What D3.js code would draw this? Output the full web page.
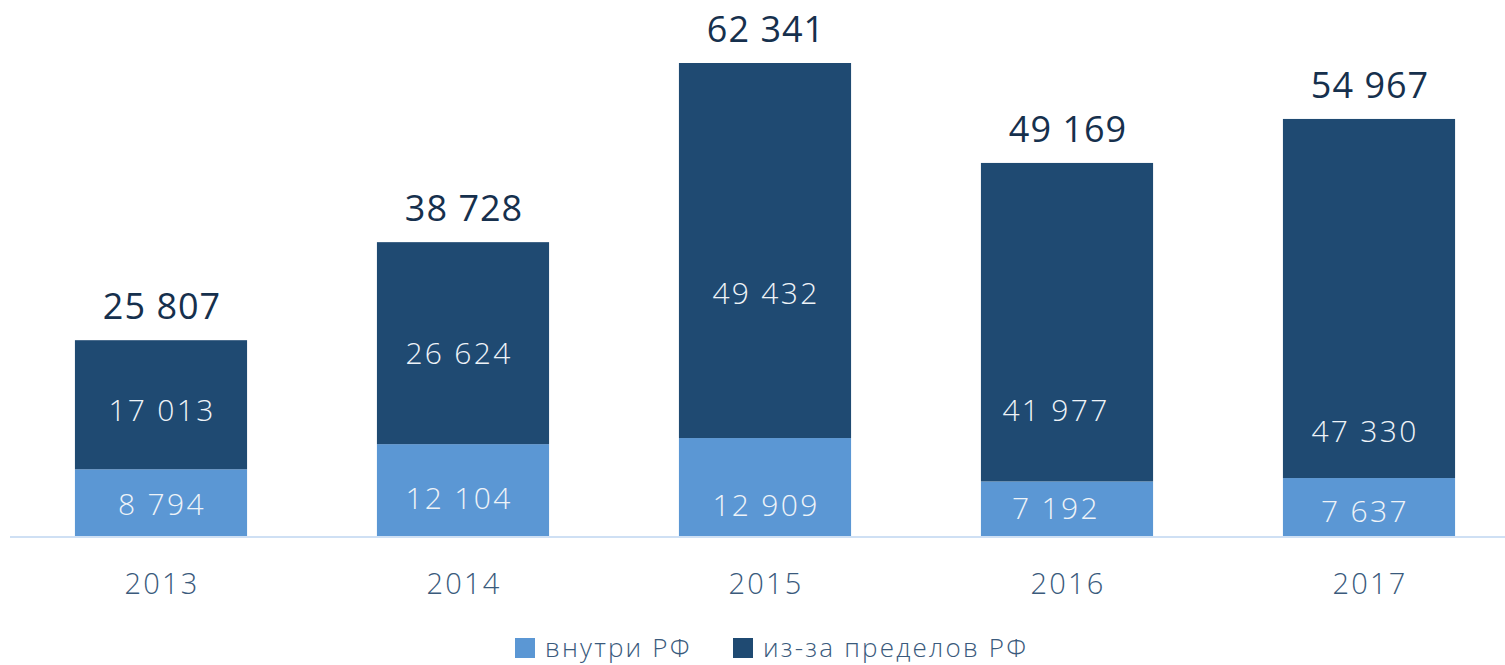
<!DOCTYPE html>
<html>
<head>
<meta charset="utf-8">
<style>
    body { margin: 0; background: #fff; }
    text { font-family: "Open Sans", "Noto Sans", sans-serif; }
</style>
</head>
<body>
<div id="vis"></div>
<script src="https://d3js.org/d3.v7.min.js"></script>
<script>
    // data
    let years = ["2013", "2014", "2015", "2016", "2017"];
    let inside = [8794, 12104, 12909, 7192, 7637];       // внутри РФ
    let outside = [17013, 26624, 49432, 41977, 47330];   // из-за пределов РФ
    let totals = [25807, 38728, 62341, 49169, 54967];
    let seriesNames = ["внутри РФ", "из-за пределов РФ"];

    let colors = ["#5b97d4", "#1f4a72"];

    // label nudges (px) to match the hand-placed labels of the original
    let outNudge = [5, 10, 43, 88, 133];
    let inNudge = [2, 8, 18, -1, 4];
    let xNudge = [0, -5, 0, -12, -5];

    let width = 1505, height = 665;
    let baseY = 536;

    let svg = d3.select("#vis")
        .append("svg")
        .attr("width", width)
        .attr("height", height);

    let x = d3.scaleBand()
        .domain(years)
        .range([10, 1520])
        .paddingInner(0.43)
        .paddingOuter(0.215);

    let y = d3.scaleLinear()
        .domain([0, 62341])
        .range([baseY, 63]);

    let rows = years.map(function (yr, i) {
        return {year: yr, inside: inside[i], outside: outside[i], total: totals[i], i: i};
    });

    let stack = d3.stack().keys(["inside", "outside"])(rows);

    svg.append("g")
        .selectAll("g")
        .data(stack)
        .enter()
        .append("g")
        .attr("fill", function (d, k) { return colors[k]; })
        .selectAll("rect")
        .data(function (d) { return d; })
        .enter()
        .append("rect")
        .attr("x", function (d) { return x(d.data.year); })
        .attr("width", x.bandwidth())
        .attr("y", function (d) { return y(d[1]); })
        .attr("height", function (d) { return y(d[0]) - y(d[1]); });

    // axis line
    let xAxis = d3.axisBottom(x).tickSize(0).tickPadding(0).tickFormat("");
    let ax = svg.append("g")
        .attr("transform", "translate(0," + (baseY + 1) + ")")
        .call(xAxis);
    ax.select(".domain")
        .attr("d", "M10,0H" + width)
        .attr("stroke", "#cfe0f4")
        .attr("stroke-width", 2);

    let fmt = function (v) { return d3.format(",")(v).replace(/,/g, " "); };

    // year labels
    svg.append("g")
        .selectAll("text")
        .data(years)
        .enter()
        .append("text")
        .attr("x", function (d) { return x(d) + x.bandwidth() / 2 + 1; })
        .attr("y", 594)
        .attr("text-anchor", "middle")
        .attr("font-size", 29)
        .attr("font-weight", 300)
        .attr("letter-spacing", 2.2)
        .attr("fill", "#3a5a7c")
        .text(function (d) { return d; });

    // totals
    svg.append("g")
        .selectAll("text")
        .data(rows)
        .enter()
        .append("text")
        .attr("x", function (d) { return x(d.year) + x.bandwidth() / 2 + 1; })
        .attr("y", function (d) { return y(d.total) - 21; })
        .attr("text-anchor", "middle")
        .attr("font-size", 36)
        .attr("letter-spacing", 1)
        .attr("fill", "#16304d")
        .text(function (d) { return fmt(d.total); });

    // inside-segment labels
    let segLabels = svg.append("g")
        .attr("font-size", 30)
        .attr("font-weight", 300)
        .attr("letter-spacing", 2.3)
        .attr("fill", "#eef3f8")
        .attr("text-anchor", "middle");

    segLabels.selectAll(".out")
        .data(rows)
        .enter()
        .append("text")
        .attr("class", "out")
        .attr("x", function (d) { return x(d.year) + x.bandwidth() / 2 + xNudge[d.i] + 1; })
        .attr("y", function (d) { return (y(d.inside) + y(d.total)) / 2 + outNudge[d.i]; })
        .attr("dy", "0.36em")
        .text(function (d) { return fmt(d.outside); });

    segLabels.selectAll(".in")
        .data(rows)
        .enter()
        .append("text")
        .attr("class", "in")
        .attr("x", function (d) { return x(d.year) + x.bandwidth() / 2 + xNudge[d.i] + 1; })
        .attr("y", function (d) { return (y(0) + y(d.inside)) / 2 + inNudge[d.i]; })
        .attr("dy", "0.36em")
        .text(function (d) { return fmt(d.inside); });

    // legend
    let legend = svg.append("g").attr("transform", "translate(515,638)");
    let legX = [0, 218];
    seriesNames.forEach(function (name, k) {
        legend.append("rect")
            .attr("x", legX[k])
            .attr("y", 0)
            .attr("width", 20)
            .attr("height", 20)
            .attr("fill", colors[k]);
        legend.append("text")
            .attr("x", legX[k] + 30)
            .attr("y", 19)
            .attr("font-size", 26)
            .attr("font-weight", 300)
            .attr("letter-spacing", 2.2)
            .attr("fill", "#3a5a7c")
            .text(name);
    });
</script>
</body>
</html>
